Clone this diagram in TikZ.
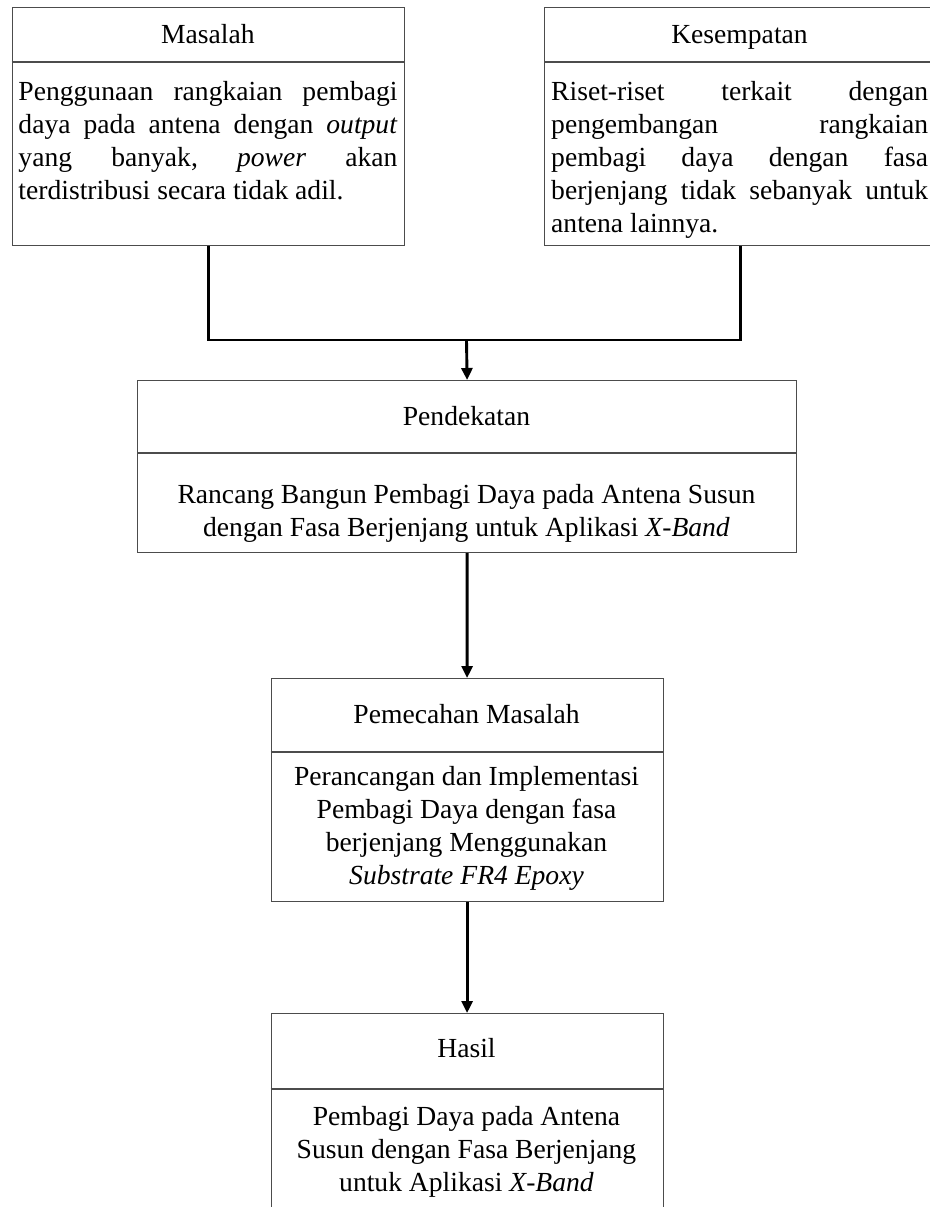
\documentclass[tikz,border=0pt]{standalone}
\usepackage{fontspec}
\setmainfont{Liberation Serif}
\usetikzlibrary{arrows.meta}
\newcommand\jline[1]{\hbox to \linewidth{#1}}
\begin{document}
\begin{tikzpicture}[x=1bp,y=-1bp,
  frame/.style={draw=black!70, line width=1.2bp, inner sep=0, anchor=north west},
  divline/.style={draw=black!70, line width=1.2bp},
  title/.style={anchor=base, inner sep=0, font={\fontsize{27.6bp}{33bp}\selectfont}},
  bodytxt/.style={inner sep=0, font={\fontsize{27.6bp}{33bp}\selectfont\frenchspacing}},
  link/.style={line width=2.9bp, draw=black},
  arrowlink/.style={link, -{Triangle[length=12bp,width=11bp]}},
]
\clip (0,0) rectangle (930,1207);
% Masalah
\node[frame, minimum width=392.3bp, minimum height=238.3bp] (m) at (11.7,6.7) {};
\draw[divline] (11.7,62) -- (404,62);
\node[title] (mt) at (207.85,43.3) {Masalah};
\node[bodytxt, anchor=base west] (mb) at (18.3,100.7) {\parbox[t]{379bp}{%
\jline{Penggunaan rangkaian pembagi}
\jline{daya pada antena dengan \textit{output}}
\jline{yang banyak, \textit{power} akan}
\hbox{terdistribusi secara tidak adil.}}};
% Kesempatan
\node[frame, minimum width=391bp, minimum height=238.3bp] (k) at (544,6.7) {};
\draw[divline] (544,62) -- (935,62);
\node[title] (kt) at (739.5,43.3) {Kesempatan};
\node[bodytxt, anchor=base west] (kb) at (551,100.5) {\parbox[t]{377bp}{%
\jline{Riset-riset terkait dengan}
\jline{pengembangan rangkaian}
\jline{pembagi daya dengan fasa}
\jline{berjenjang tidak sebanyak untuk}
\hbox{antena lainnya.}}};
% Pendekatan
\node[frame, minimum width=659bp, minimum height=172bp] (p) at (137,380) {};
\draw[divline] (137,453) -- (796,453);
\node[title] (pt) at (466.5,425) {Pendekatan};
\node[bodytxt, anchor=base] (pb) at (466.5,503) {\parbox[t]{640bp}{\centering
Rancang Bangun Pembagi Daya pada Antena Susun\\
dengan Fasa Berjenjang untuk Aplikasi \textit{X-Band}}};
% Pemecahan Masalah
\node[frame, minimum width=392bp, minimum height=223bp] (q) at (270.5,678) {};
\draw[divline] (270.5,752) -- (662.5,752);
\node[title] (qt) at (466.5,723) {Pemecahan Masalah};
\node[bodytxt, anchor=base] (qb) at (466.5,785) {\parbox[t]{385bp}{\centering
Perancangan dan Implementasi\\
Pembagi Daya dengan fasa\\
berjenjang Menggunakan\\
\textit{Substrate FR4 Epoxy}}};
% Hasil
\node[frame, minimum width=392bp, minimum height=250bp] (h) at (270.5,1013) {};
\draw[divline] (270.5,1089) -- (662.5,1089);
\node[title] (ht) at (466.5,1057) {Hasil};
\node[bodytxt, anchor=base] (hb) at (466.5,1125) {\parbox[t]{385bp}{\centering
Pembagi Daya pada Antena\\
Susun dengan Fasa Berjenjang\\
untuk Aplikasi \textit{X-Band}}};
% connectors
\coordinate (j) at (466.5,340);
\draw[link] (m.south) |- (j) -| (k.south);
\draw[arrowlink] (j) -- (p.north);
\draw[arrowlink] (p.south) -- (q.north);
\draw[arrowlink] (q.south) -- (h.north);
\end{tikzpicture}
\end{document}
